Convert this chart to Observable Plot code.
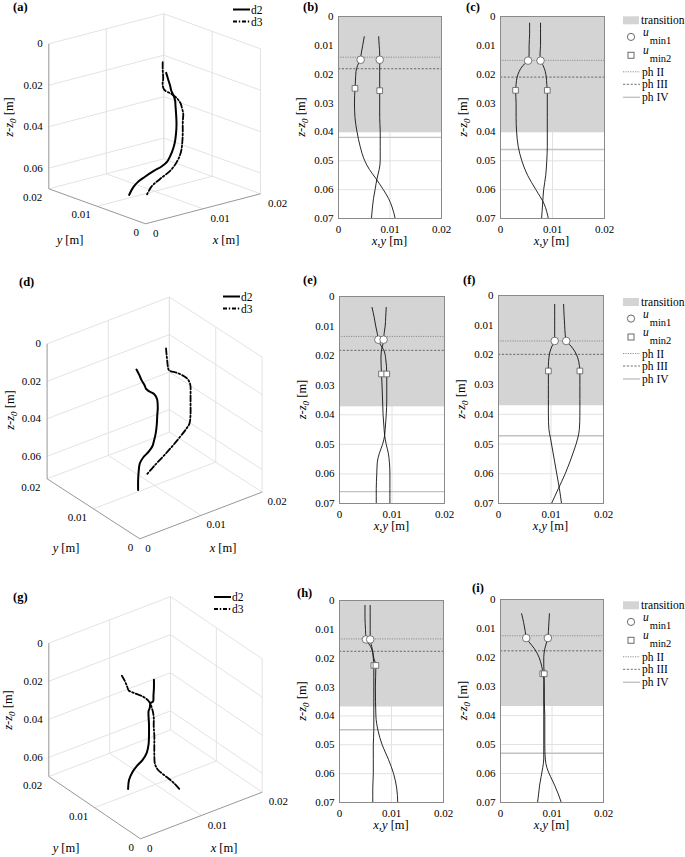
<!DOCTYPE html>
<html><head><meta charset="utf-8">
<script src="https://cdn.jsdelivr.net/npm/d3@7"></script>
<script src="https://cdn.jsdelivr.net/npm/@observablehq/plot@0.6"></script>
<style>
body{margin:0;background:#fff;}
#fig{position:relative;width:685px;height:857px;overflow:hidden;background:#fff;}
#fig svg{position:absolute;overflow:visible;}
</style></head><body><div id="fig"></div>
<script>
const FONT = '"Liberation Serif","Times New Roman",Times,serif';

// ---------- tick values ----------
const xyTicks = [0, 0.01, 0.02];
const zTicks2D = [0, 0.01, 0.02, 0.03, 0.04, 0.05, 0.06, 0.07];
const zTicks3D = [0, 0.02, 0.04, 0.06];
const legendLabels = ["transition", "min1", "min2", "ph II", "ph III", "ph IV"];
const seriesNames = ["d2", "d3"];

// ---------- panel (b): d2, row 1 ----------
const b_z = [0.007,0.010,0.013,0.015,0.017,0.019,0.022,0.025,0.030,0.035,0.040,0.045,0.050,0.053,0.056,0.060,0.063,0.066,0.070];
const b_x = [0.0078,0.0079,0.0080,0.0080,0.0080,0.0080,0.0080,0.0080,0.0080,0.0080,0.0081,0.0081,0.0081,0.0079,0.0075,0.0071,0.0068,0.0066,0.0064];
const b_y = [0.0050,0.0047,0.0044,0.0042,0.0037,0.0034,0.0033,0.0032,0.0031,0.0032,0.0036,0.0042,0.0051,0.0060,0.0072,0.0087,0.0097,0.0104,0.0110];
const b_circleX = [0.0043, 0.0080], b_circleZ = [0.0150, 0.0150];
const b_squareX = [0.0032, 0.0080], b_squareZ = [0.0249, 0.0257];
const b_phases = [0.0141, 0.0181, 0.0419];
const b_transition = 0.0402;

// ---------- panel (c): d3, row 1 ----------
const c_z = [0.0023,0.006,0.010,0.013,0.0153,0.017,0.019,0.021,0.0235,0.0256,0.030,0.035,0.040,0.045,0.050,0.055,0.060,0.065,0.070];
const c_x = [0.0077,0.0077,0.0077,0.0076,0.0077,0.0082,0.0086,0.0088,0.0089,0.0090,0.0090,0.0090,0.0090,0.0090,0.0089,0.0087,0.0083,0.0081,0.0079];
const c_y = [0.0056,0.0056,0.0055,0.0055,0.0053,0.0043,0.0036,0.0032,0.0030,0.0029,0.0030,0.0030,0.0031,0.0034,0.0041,0.0052,0.0068,0.0084,0.0092];
const c_circleX = [0.0053, 0.0077], c_circleZ = [0.0153, 0.0153];
const c_squareX = [0.0029, 0.0090], c_squareZ = [0.0256, 0.0256];
const c_phases = [0.0152, 0.0210, 0.0461];
const c_transition = 0.0402;

// ---------- panel (e): d2, row 2 ----------
const e_z = [0.0037,0.007,0.010,0.0125,0.0147,0.016,0.018,0.021,0.0262,0.030,0.035,0.040,0.045,0.047,0.050,0.053,0.056,0.060,0.065,0.070];
const e_x = [0.0062,0.0066,0.0069,0.0072,0.0074,0.0077,0.0084,0.0088,0.0090,0.0090,0.0090,0.0089,0.0087,0.0086,0.0082,0.0076,0.0072,0.0071,0.0070,0.0070];
const e_y = [0.0089,0.0088,0.0087,0.0085,0.0084,0.0083,0.0080,0.0079,0.0080,0.0081,0.0082,0.0083,0.0085,0.0086,0.0089,0.0093,0.0095,0.0096,0.0096,0.0096];
const e_circleX = [0.0074, 0.0084], e_circleZ = [0.0146, 0.0146];
const e_squareX = [0.0080, 0.0090], e_squareZ = [0.0262, 0.0262];
const e_phases = [0.0135, 0.0182, 0.0660];
const e_transition = 0.0373;

// ---------- panel (f): d3, row 2 ----------
const f_z = [0.003,0.007,0.010,0.013,0.0153,0.017,0.019,0.021,0.0235,0.0254,0.030,0.035,0.040,0.045,0.048,0.052,0.056,0.060,0.065,0.070];
const f_x = [0.0124,0.0125,0.0126,0.0127,0.0129,0.0138,0.0146,0.0151,0.0154,0.0155,0.0155,0.0155,0.0155,0.0154,0.0151,0.0144,0.0136,0.0127,0.0114,0.0101];
const f_y = [0.0107,0.0107,0.0107,0.0107,0.0107,0.0102,0.0098,0.0096,0.0095,0.0095,0.0095,0.0095,0.0095,0.0096,0.0099,0.0103,0.0107,0.0111,0.0116,0.0120];
const f_circleX = [0.0107, 0.0129], f_circleZ = [0.0153, 0.0153];
const f_squareX = [0.0095, 0.0155], f_squareZ = [0.0254, 0.0254];
const f_phases = [0.0153, 0.0198, 0.0472];
const f_transition = 0.0371;

// ---------- panel (h): d2, row 3 ----------
const h_z = [0.0017,0.006,0.010,0.0135,0.016,0.018,0.020,0.0225,0.030,0.040,0.045,0.050,0.055,0.060,0.065,0.070];
const h_x = [0.0059,0.0059,0.0059,0.0059,0.0062,0.0064,0.0065,0.0066,0.0066,0.0066,0.0066,0.0065,0.0065,0.0065,0.0064,0.0064];
const h_y = [0.0049,0.0049,0.0050,0.0051,0.0060,0.0064,0.0066,0.0070,0.0069,0.0070,0.0074,0.0082,0.0094,0.0104,0.0110,0.0112];
const h_circleX = [0.0051, 0.0059], h_circleZ = [0.0135, 0.0135];
const h_squareX = [0.0066, 0.0070], h_squareZ = [0.0225, 0.0225];
const h_phases = [0.0133, 0.0176, 0.0448];
const h_transition = 0.0369;

// ---------- panel (i): d3, row 3 ----------
const i_z = [0.0049,0.008,0.011,0.0133,0.015,0.017,0.020,0.023,0.0256,0.030,0.035,0.040,0.045,0.050,0.055,0.058,0.061,0.064,0.067,0.070];
const i_x = [0.0041,0.0045,0.0048,0.0050,0.0057,0.0066,0.0075,0.0080,0.0083,0.0085,0.0085,0.0086,0.0086,0.0086,0.0087,0.0090,0.0097,0.0105,0.0112,0.0118];
const i_y = [0.0095,0.0094,0.0093,0.0092,0.0089,0.0086,0.0084,0.0084,0.0085,0.0084,0.0084,0.0084,0.0084,0.0084,0.0084,0.0082,0.0079,0.0076,0.0074,0.0072];
const i_circleX = [0.0050, 0.0092], i_circleZ = [0.0133, 0.0133];
const i_squareX = [0.0082, 0.0085], i_squareZ = [0.0256, 0.0256];
const i_phases = [0.0125, 0.0177, 0.0530];
const i_transition = 0.0369;

// ---------- helpers ----------
const fmt = d => d === 0 ? "0" : d.toFixed(2);
const fig = document.getElementById("fig");
function place(svg, left, top) {
  svg.style.left = left + "px"; svg.style.top = top + "px";
  svg.style.maxWidth = "none"; svg.style.background = "transparent";
  fig.appendChild(svg);
}
const PH_STYLE = [
  {stroke: "#8f8f8f", strokeDasharray: "1.2,1.2", strokeWidth: 1},
  {stroke: "#4d4d4d", strokeDasharray: "2.2,1.6", strokeWidth: 0.8},
  {stroke: "#c2c2c2", strokeWidth: 1.4}
];
const TRANS_FILL = "#d4d4d4";
const MARK_STROKE = "#6a6a6a";

function draw2D(d, fr) {
  const ml = 44, mr = 6, mt = 8, mb = 30;
  const cx = d.z.map((z, k) => ({z, v: d.x[k]}));
  const cy = d.z.map((z, k) => ({z, v: d.y[k]}));
  const circles = d.cx.map((v, k) => ({v, z: d.cz[k]}));
  const squares = d.sx.map((v, k) => ({v, z: d.sz[k]}));
  const trans = [{x1: xyTicks[0], x2: xyTicks[xyTicks.length - 1], z1: 0, z2: d.trans}];
  const svg = Plot.plot({
    width: fr.w + ml + mr, height: fr.h + mt + mb,
    marginLeft: ml, marginRight: mr, marginTop: mt, marginBottom: mb,
    style: {fontFamily: FONT, fontSize: "11px", color: "#000", background: "transparent", overflow: "visible"},
    x: {domain: [0, 0.02]},
    y: {domain: [0, 0.07], reverse: true},
    marks: [
      Plot.gridX([0.01], {stroke: "#e2e2e2", strokeOpacity: 1}),
      Plot.gridY(zTicks2D.slice(1, -1), {stroke: "#e2e2e2", strokeOpacity: 1}),
      Plot.rect(trans, {x1: "x1", x2: "x2", y1: "z1", y2: "z2", fill: TRANS_FILL}),
      Plot.ruleY([d.ph[2]], PH_STYLE[2]),
      Plot.ruleY([d.ph[0]], PH_STYLE[0]),
      Plot.ruleY([d.ph[1]], PH_STYLE[1]),
      Plot.line(cx, {x: "v", y: "z", curve: "monotone-y", stroke: "#111", strokeWidth: 0.9}),
      Plot.line(cy, {x: "v", y: "z", curve: "monotone-y", stroke: "#111", strokeWidth: 0.9}),
      Plot.dot(squares, {x: "v", y: "z", symbol: "square", r: 3.2, fill: "white", stroke: MARK_STROKE, strokeWidth: 0.9}),
      Plot.dot(circles, {x: "v", y: "z", r: 3.8, fill: "white", stroke: MARK_STROKE, strokeWidth: 0.9}),
      Plot.frame({stroke: "#8a8a8a"}),
      Plot.axisX({ticks: xyTicks, tickFormat: fmt, tickSize: 0, tickPadding: 7, label: null}),
      Plot.axisY({ticks: zTicks2D, tickFormat: fmt, tickSize: 0, tickPadding: 5, label: null})
    ]
  });
  place(svg, fr.left - ml, fr.top - mt);
}

function draw3D(cfg, s2, s3) {
  const W = 300, H = cfg.h, lim = 0.02;
  const P = (x, y, z) => [
    cfg.F[0] + x / lim * cfg.X[0] + y / lim * cfg.Y[0],
    cfg.F[1] - cfg.top + x / lim * cfg.X[1] + y / lim * cfg.Y[1] - (cfg.zMax - z) * cfg.zSpan / cfg.zMax
  ];
  const seg = (a, b) => { const p = P(...a), q = P(...b); return {x1: p[0], y1: p[1], x2: q[0], y2: q[1]}; };
  const grid = [], axes = [];
  const zs = [...zTicks3D, cfg.zMax];
  for (const z of zs) {
    grid.push(seg([0, lim, z], [lim, lim, z]));
    grid.push(seg([lim, 0, z], [lim, lim, z]));
  }
  for (const v of xyTicks.slice(1)) {
    grid.push(seg([v, lim, 0], [v, lim, cfg.zMax]));
    grid.push(seg([lim, v, 0], [lim, v, cfg.zMax]));
  }
  grid.push(seg([lim, 0, 0], [lim, 0, cfg.zMax]));
  const mid = xyTicks[1];
  grid.push(seg([mid, 0, cfg.zMax], [mid, lim, cfg.zMax]));
  grid.push(seg([0, mid, cfg.zMax], [lim, mid, cfg.zMax]));
  axes.push(seg([0, lim, 0], [0, lim, cfg.zMax]));
  axes.push(seg([0, lim, cfg.zMax], [0, 0, cfg.zMax]));
  axes.push(seg([0, 0, cfg.zMax], [lim, 0, cfg.zMax]));
  const proj = s => s.z.map((z, k) => { const p = P(s.x[k], s.y[k], z); return {px: p[0], py: p[1]}; });
  const zLab = zTicks3D.map(z => { const p = P(0, lim, z); return {px: p[0], py: p[1], t: fmt(z)}; });
  const yLab = xyTicks.map(v => { const p = P(0, v, cfg.zMax); return {px: p[0], py: p[1], t: fmt(v)}; });
  const xLab = xyTicks.map(v => { const p = P(v, 0, cfg.zMax); return {px: p[0], py: p[1], t: fmt(v)}; });
  const svg = Plot.plot({
    width: W, height: H, margin: 0,
    style: {fontFamily: FONT, fontSize: "11px", color: "#000", background: "transparent", overflow: "visible"},
    x: {domain: [0, W], range: [0, W], axis: null},
    y: {domain: [0, H], range: [0, H], axis: null},
    marks: [
      Plot.link(grid, {x1: "x1", y1: "y1", x2: "x2", y2: "y2", stroke: "#e0e0e0", strokeWidth: 0.9}),
      Plot.link(axes, {x1: "x1", y1: "y1", x2: "x2", y2: "y2", stroke: "#8c8c8c", strokeWidth: 0.9}),
      Plot.line(proj(s2), {x: "px", y: "py", curve: "catmull-rom", stroke: "#000", strokeWidth: 2}),
      Plot.line(proj(s3), {x: "px", y: "py", curve: "catmull-rom", stroke: "#000", strokeWidth: 1.8, strokeDasharray: "6,2.2,1.6,2.2"}),
      Plot.text(zLab, {x: "px", y: "py", text: "t", textAnchor: "end", dx: -6, fontSize: 11}),
      Plot.text(yLab, {x: "px", y: "py", text: "t", textAnchor: "end", dx: -6.5, dy: 8.5, fontSize: 11}),
      Plot.text(xLab, {x: "px", y: "py", text: "t", textAnchor: "start", dx: cfg.xdx, dy: 9.5, fontSize: 11})
    ]
  });
  place(svg, 0, cfg.top);
}

// ---------- 3D panels ----------
const cfgA = {top: 0, h: 255, F: [145, 223.3], X: [115, -30], Y: [-96.7, -35], zMax: 0.07, zSpan: 145, xdx: 7.5};
const cfgD = {top: 270, h: 290, F: [139.3, 538.3], X: [122.3, -46.7], Y: [-92.7, -60], zMax: 0.072, zSpan: 135, xdx: 5.5};
const cfgG = {top: 570, h: 287, F: [140, 838.3], X: [121.7, -46.6], Y: [-91.7, -62.3], zMax: 0.07, zSpan: 133.3, xdx: 6.5};
draw3D(cfgA, {z: b_z, x: b_x, y: b_y}, {z: c_z, x: c_x, y: c_y});
draw3D(cfgD, {z: e_z, x: e_x, y: e_y}, {z: f_z, x: f_x, y: f_y});
draw3D(cfgG, {z: h_z, x: h_x, y: h_y}, {z: i_z, x: i_x, y: i_y});

// ---------- 2D panels ----------
const frames = {
  b: {left: 338, top: 16, w: 103, h: 202},
  c: {left: 499.5, top: 16, w: 104, h: 202},
  e: {left: 339, top: 296, w: 105, h: 207},
  f: {left: 498, top: 295, w: 105, h: 208},
  h: {left: 339, top: 600, w: 104, h: 202},
  i: {left: 500, top: 599, w: 103, h: 203}
};
draw2D({z: b_z, x: b_x, y: b_y, cx: b_circleX, cz: b_circleZ, sx: b_squareX, sz: b_squareZ, ph: b_phases, trans: b_transition}, frames.b);
draw2D({z: c_z, x: c_x, y: c_y, cx: c_circleX, cz: c_circleZ, sx: c_squareX, sz: c_squareZ, ph: c_phases, trans: c_transition}, frames.c);
draw2D({z: e_z, x: e_x, y: e_y, cx: e_circleX, cz: e_circleZ, sx: e_squareX, sz: e_squareZ, ph: e_phases, trans: e_transition}, frames.e);
draw2D({z: f_z, x: f_x, y: f_y, cx: f_circleX, cz: f_circleZ, sx: f_squareX, sz: f_squareZ, ph: f_phases, trans: f_transition}, frames.f);
draw2D({z: h_z, x: h_x, y: h_y, cx: h_circleX, cz: h_circleZ, sx: h_squareX, sz: h_squareZ, ph: h_phases, trans: h_transition}, frames.h);
draw2D({z: i_z, x: i_x, y: i_y, cx: i_circleX, cz: i_circleZ, sx: i_squareX, sz: i_squareZ, ph: i_phases, trans: i_transition}, frames.i);

// ---------- overlay: titles, axis labels, legends ----------
const ov = d3.select("#fig").append("svg").attr("width", 685).attr("height", 857)
  .style("left", "0px").style("top", "0px").attr("font-family", FONT);

function txt(x, y, s, opt = {}) {
  return ov.append("text").attr("x", x).attr("y", y).attr("font-size", opt.size || 12)
    .attr("font-weight", opt.bold ? "bold" : null).attr("text-anchor", opt.anchor || "start").text(s);
}
function zLabel(cx, cy) {
  const size = 12.5;
  const t = ov.append("text").attr("transform", `translate(${cx},${cy}) rotate(-90)`)
    .attr("text-anchor", "middle").attr("font-size", size);
  t.append("tspan").attr("font-style", "italic").text("z-z");
  t.append("tspan").attr("font-style", "italic").attr("font-size", size * 0.72).attr("dy", 3).text("0");
  t.append("tspan").attr("dy", -3).text(" [m]");
}
function varLabel(cx, baseline, v) {
  const t = ov.append("text").attr("x", cx).attr("y", baseline).attr("text-anchor", "middle").attr("font-size", 12.5);
  t.append("tspan").attr("font-style", "italic").text(v);
  t.append("tspan").text(" [m]");
}

// panel letters
[["(a)", 13, 11], ["(b)", 303, 11], ["(c)", 466, 11],
 ["(d)", 19, 286], ["(e)", 303, 284], ["(f)", 463, 284],
 ["(g)", 13, 601], ["(h)", 297, 597], ["(i)", 472, 592]]
  .forEach(([s, x, y]) => txt(x, y, s, {size: 12.5, bold: true}));

// 3D axis labels
zLabel(13, 117); varLabel(70, 244, "y"); varLabel(226, 244, "x");
zLabel(14, 410); varLabel(66, 552, "y"); varLabel(223, 552, "x");
zLabel(12, 710); varLabel(66, 852, "y"); varLabel(224, 852, "x");

// 2D axis labels
for (const k of Object.keys(frames)) {
  const fr = frames[k];
  zLabel(fr.left - 33, fr.top + fr.h / 2);
  varLabel(fr.left + fr.w / 2, fr.top + fr.h + 27, "x,y");
}

// 3D legends
function legend3D(x0, y0) {
  ov.append("line").attr("x1", x0).attr("x2", x0 + 17).attr("y1", y0).attr("y2", y0).attr("stroke", "#000").attr("stroke-width", 2);
  ov.append("line").attr("x1", x0).attr("x2", x0 + 17).attr("y1", y0 + 12).attr("y2", y0 + 12).attr("stroke", "#000").attr("stroke-width", 1.8).attr("stroke-dasharray", "4,1.8,1.4,1.8");
  txt(x0 + 18, y0 + 4, seriesNames[0], {size: 11.5});
  txt(x0 + 18, y0 + 16, seriesNames[1], {size: 11.5});
}
legend3D(233, 9.5); legend3D(223, 296.5); legend3D(214, 597);

// 2D legends
function legend2D(x0, yc) {
  const off = [0, 16.6, 35, 51.5, 64, 77];
  ov.append("rect").attr("x", x0).attr("y", yc - 4).attr("width", 16).attr("height", 8).attr("fill", TRANS_FILL);
  txt(x0 + 18, yc + 4, legendLabels[0], {size: 11.5});
  ov.append("circle").attr("cx", x0 + 8).attr("cy", yc + off[1]).attr("r", 3.6).attr("fill", "white").attr("stroke", MARK_STROKE);
  ov.append("rect").attr("x", x0 + 5).attr("y", yc + off[2] - 3).attr("width", 6).attr("height", 6).attr("fill", "white").attr("stroke", MARK_STROKE);
  for (const j of [1, 2]) {
    const t = ov.append("text").attr("x", x0 + 20).attr("y", yc + off[j] - 1).attr("font-size", 11.5);
    t.append("tspan").attr("font-style", "italic").text("u");
    t.append("tspan").attr("dy", 8).attr("dx", 1).attr("font-size", 10.5).text(legendLabels[j]);
  }
  for (const j of [3, 4, 5]) {
    const st = PH_STYLE[j - 3];
    ov.append("line").attr("x1", x0).attr("x2", x0 + 17).attr("y1", yc + off[j]).attr("y2", yc + off[j])
      .attr("stroke", st.stroke).attr("stroke-width", st.strokeWidth).attr("stroke-dasharray", st.strokeDasharray || null);
    txt(x0 + 19, yc + off[j] + 4, legendLabels[j], {size: 11.5});
  }
}
legend2D(623, 20.3); legend2D(623, 302); legend2D(623, 605.3);
</script></body></html>
